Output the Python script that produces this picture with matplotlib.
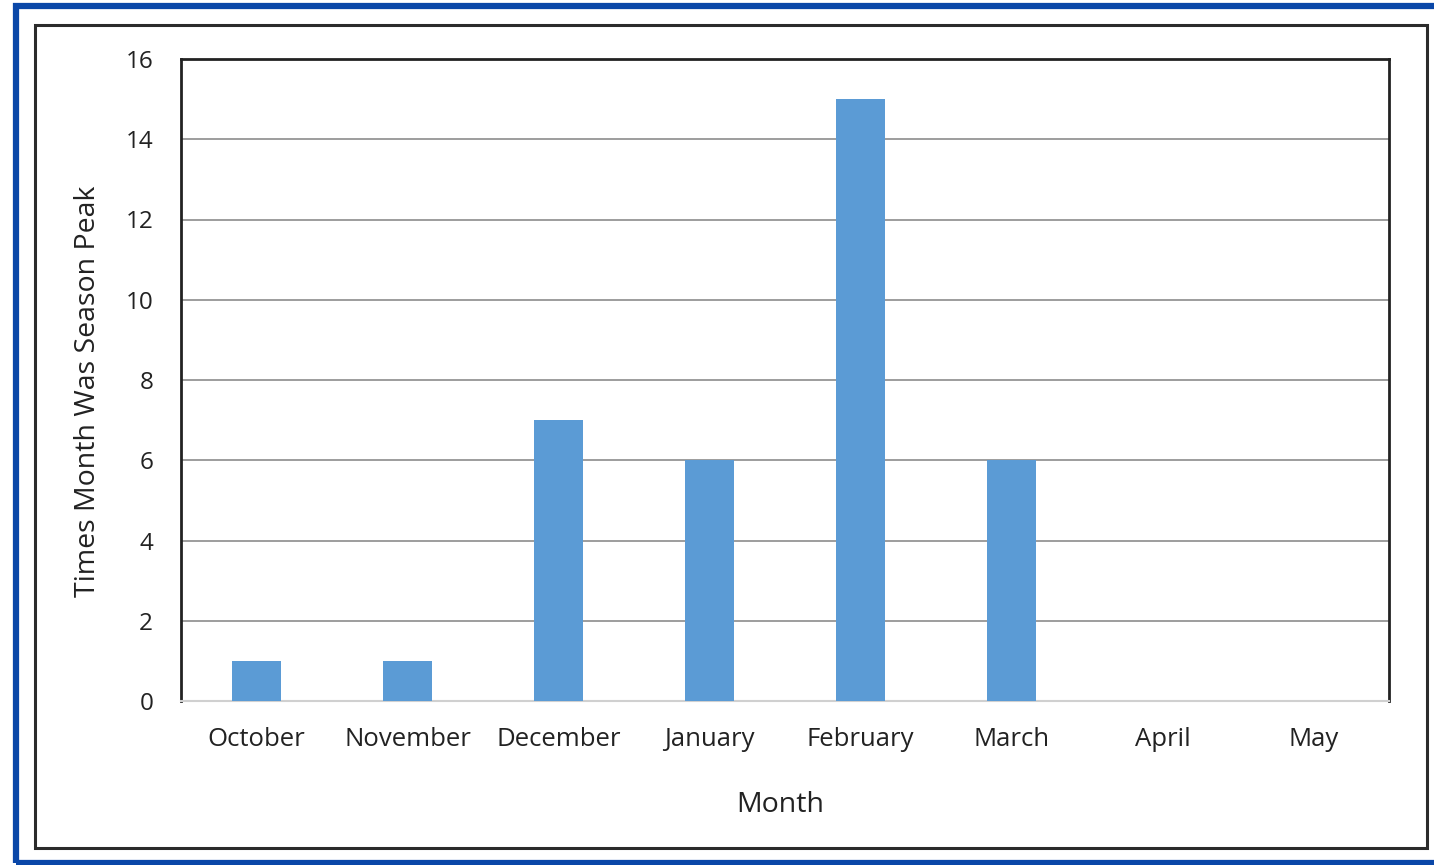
import matplotlib.pyplot as plt
from matplotlib.patches import Rectangle

months = ['October', 'November', 'December', 'January', 'February', 'March', 'April', 'May']
peak_counts = [1, 1, 7, 6, 15, 6, 0, 0]
y_ticks = [0, 2, 4, 6, 8, 10, 12, 14, 16]

W, H = 1434, 865
plt.rcParams['font.family'] = ['Open Sans', 'DejaVu Sans']

fig = plt.figure(figsize=(W / 100, H / 100), dpi=100)
fig.patch.set_facecolor('white')

# blue outer frame and black chart border
fig.patches.append(Rectangle((16 / W, 2 / H), (W + 20) / W, (H - 8) / H,
                             transform=fig.transFigure, fill=False,
                             edgecolor='#0a47a8', linewidth=4.5))
fig.patches.append(Rectangle((35 / W, (H - 848) / H), (1427 - 35) / W, (848 - 25) / H,
                             transform=fig.transFigure, fill=False,
                             edgecolor='#2b2b2b', linewidth=2.2))

ax = fig.add_axes([181 / W, (H - 701) / H, (1389 - 181) / W, (701 - 59) / H])
x = range(len(months))
ax.bar(x, peak_counts, width=0.32, color='#5b9bd5', zorder=3)

ax.set_xlim(-0.5, len(months) - 0.5)
ax.set_ylim(0, 16)
ax.set_yticks(y_ticks)
ax.set_xticks(list(x))
ax.set_xticklabels(months)
ax.tick_params(axis='both', length=0, colors='#222222')
ax.tick_params(axis='y', pad=20, labelsize=17.5)
ax.tick_params(axis='x', pad=19, labelsize=18.5)
ax.grid(axis='y', color='#8c8c8c', linewidth=1.2, zorder=0)

for side in ['top', 'left', 'right']:
    ax.spines[side].set_color('#222222')
    ax.spines[side].set_linewidth(2)
ax.spines['bottom'].set_color('#d0d0d0')
ax.spines['bottom'].set_linewidth(1.5)

ax.set_xlabel('Month', fontsize=20.5, color='#222222', labelpad=28, x=0.496)
ax.set_ylabel('Times Month Was Season Peak', fontsize=20.5, color='#222222',
              labelpad=17, y=0.483)

fig.savefig('out.png', dpi=100)
